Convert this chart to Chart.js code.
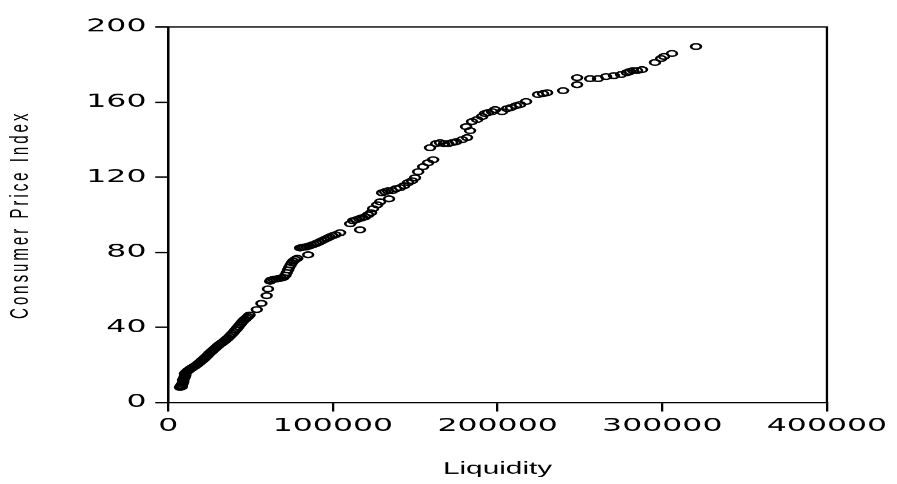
<!DOCTYPE html>
<html>
<head>
<meta charset="utf-8">
<script src="https://cdn.jsdelivr.net/npm/chart.js@4"></script>
<style>
  html, body { margin: 0; padding: 0; background: #fff; }
</style>
</head>
<body>
<!-- el gráfico original está estirado en horizontal: se dibuja estrecho y se ensancha con CSS -->
<canvas id="scatter" width="512" height="484" style="display:block;width:897px;height:484px"></canvas>
<script>
// Datos: Liquidez (x) frente a Índice de Precios al Consumo (y)
const liquidity = [
  7200, 7600, 8000, 8300, 8600, 8900, 9200, 9000, 9500, 9800,
  10100, 10400, 10200, 10800, 11300, 11900, 12600, 13300, 14000, 14800,
  15600, 16400, 17200, 18000, 18900, 19800, 20600, 21500, 22300, 23100,
  24000, 24800, 25700, 26500, 27400, 28300, 29200, 30100, 31000, 31900,
  32800, 33700, 34600, 35500, 36400, 37300, 38200, 39100, 40000, 40900,
  41800, 42600, 43400, 44200, 45000, 45800, 46700, 47600, 48500, 49400,
  53800, 56600, 59800, 60600, 61900,
  62500, 64000, 65500, 67000, 68500, 70000, 71200, 72000, 72800, 73500,
  74300, 75100, 76000, 77200, 78400, 85000,
  80100, 81300, 82600, 84000, 85500, 87000, 88600, 90100, 91700, 93300,
  94900, 96500, 98100, 99800, 101600, 104400,
  110500, 112300, 114100, 116000, 117800, 119600, 121400, 123200, 116500,
  124400, 126900, 128700, 134100, 129900, 131700, 133500, 136000, 138400, 140800,
  143300, 145700, 148100, 149900, 151800, 154800, 157800, 160900, 159000, 162700,
  165100, 167500, 170000, 172400, 174800, 178500, 181500, 183300, 180900, 184500,
  187600, 190600, 192400, 194200, 196700, 198500, 202700, 205800, 208200, 211200,
  213700, 217300, 224600, 227600, 230100, 239800, 248300, 248300, 256200, 261000,
  265900, 270700, 275000, 278600, 280400, 282300, 284700, 287700, 295600, 299300,
  301100, 305900, 320500
];
const cpi = [
  8.0, 8.6, 9.1, 8.4, 9.8, 10.5, 11.2, 12.0, 12.6, 13.1,
  13.8, 14.5, 15.3, 15.9, 16.4, 16.9, 17.3, 17.8, 18.2, 18.6,
  19.1, 19.5, 20.0, 20.6, 21.2, 21.8, 22.5, 23.1, 23.8, 24.4,
  25.2, 26.0, 26.7, 27.3, 28.0, 28.7, 29.4, 30.1, 30.8, 31.3,
  31.9, 32.5, 33.1, 33.8, 34.4, 35.2, 36.0, 36.8, 37.7, 38.6,
  39.5, 40.4, 41.3, 42.1, 42.9, 43.7, 44.4, 45.1, 45.8, 46.6,
  49.5, 52.8, 56.9, 60.5, 64.6,
  65.2, 65.6, 65.8, 66.0, 66.2, 66.6, 67.8, 69.2, 70.6, 72.0,
  73.2, 74.4, 75.3, 76.2, 76.8, 78.7,
  82.3, 82.6, 82.8, 82.9, 83.3, 83.8, 84.2, 84.8, 85.4, 86.1,
  86.8, 87.5, 88.2, 88.8, 89.4, 90.4,
  95.2, 96.8, 97.3, 97.9, 98.4, 98.9, 100.0, 101.1, 92.0,
  103.2, 105.3, 106.9, 108.5, 111.7, 112.3, 112.8, 112.8, 113.9, 114.4,
  115.5, 117.1, 118.1, 119.7, 122.9, 125.6, 127.7, 129.3, 135.7, 137.9,
  138.4, 137.9, 137.9, 138.4, 138.9, 140.0, 141.1, 144.8, 146.9, 149.6,
  150.7, 152.3, 153.9, 154.4, 154.9, 156.0, 154.9, 156.5, 157.1, 158.1,
  158.7, 160.3, 164.0, 164.5, 165.0, 166.1, 169.3, 173.0, 172.5, 172.5,
  173.6, 174.1, 174.7, 175.7, 176.3, 176.8, 176.8, 177.3, 181.1, 183.2,
  184.3, 185.9, 189.6
];
const xTicks = [0, 100000, 200000, 300000, 400000];
const yTicks = [0, 40, 80, 120, 160, 200];

const points = liquidity.map((x, i) => ({ x: x, y: cpi[i] }));

// marco completo alrededor del área de trazado
const frameBox = {
  id: 'frameBox',
  afterDraw(chart) {
    const { ctx, chartArea: a } = chart;
    ctx.save();
    ctx.strokeStyle = '#000';
    ctx.lineWidth = 1.3;
    ctx.strokeRect(a.left, a.top, a.right - a.left, a.bottom - a.top);
    ctx.restore();
  }
};

// el título del eje Y del original es largo y estrecho: se le da espaciado entre letras
function spaceYTitle(scale) {
  if (scale._spaced) return;
  scale._spaced = true;
  const orig = scale.drawTitle;
  scale.drawTitle = function () {
    const c = this.ctx;
    c.save();
    c.letterSpacing = '3px';
    orig.apply(this, arguments);
    c.restore();
  };
}

const ctx = document.getElementById('scatter').getContext('2d');
new Chart(ctx, {
  type: 'scatter',
  data: {
    datasets: [{
      data: points,
      pointStyle: 'circle',
      pointRadius: 2.8,
      pointBorderWidth: 1.5,
      borderColor: '#000',
      backgroundColor: 'rgba(0,0,0,0)'
    }]
  },
  options: {
    responsive: false,
    animation: false,
    devicePixelRatio: 1.752,
    layout: { padding: { top: 27, right: 40, left: 0, bottom: 0 } },
    plugins: { legend: { display: false }, tooltip: { enabled: false } },
    scales: {
      x: {
        type: 'linear',
        min: xTicks[0],
        max: xTicks[xTicks.length - 1],
        afterBuildTicks: (scale) => { scale.ticks = xTicks.map(v => ({ value: v })); },
        afterFit: (scale) => { scale.height = 81.5; },
        grid: { drawOnChartArea: false, drawTicks: true, tickLength: 9, color: '#000', lineWidth: 1.3 },
        border: { color: '#000', width: 1.3 },
        ticks: {
          color: '#000',
          padding: 4,
          maxRotation: 0,
          font: { family: 'DejaVu Sans', size: 18 },
          callback: (v) => String(v)
        },
        title: {
          display: true,
          text: 'Liquidity',
          color: '#000',
          padding: { top: 0, bottom: 5 },
          font: { family: 'Liberation Sans', size: 17 }
        }
      },
      y: {
        type: 'linear',
        min: yTicks[0],
        max: yTicks[yTicks.length - 1],
        afterBuildTicks: (scale) => { scale.ticks = yTicks.map(v => ({ value: v })); },
        afterFit: (scale) => { scale.width = 96; spaceYTitle(scale); },
        grid: { drawOnChartArea: false, drawTicks: true, tickLength: 7.4, color: '#000', lineWidth: 1.5 },
        border: { color: '#000', width: 1.3 },
        ticks: {
          color: '#000',
          padding: 5,
          font: { family: 'DejaVu Sans', size: 18 },
          callback: (v) => String(v)
        },
        title: {
          display: true,
          text: 'Consumer Price Index',
          color: '#000',
          padding: { top: 3, bottom: 0 },
          font: { family: 'Liberation Sans', size: 15 }
        }
      }
    }
  },
  plugins: [frameBox]
});
</script>
</body>
</html>
